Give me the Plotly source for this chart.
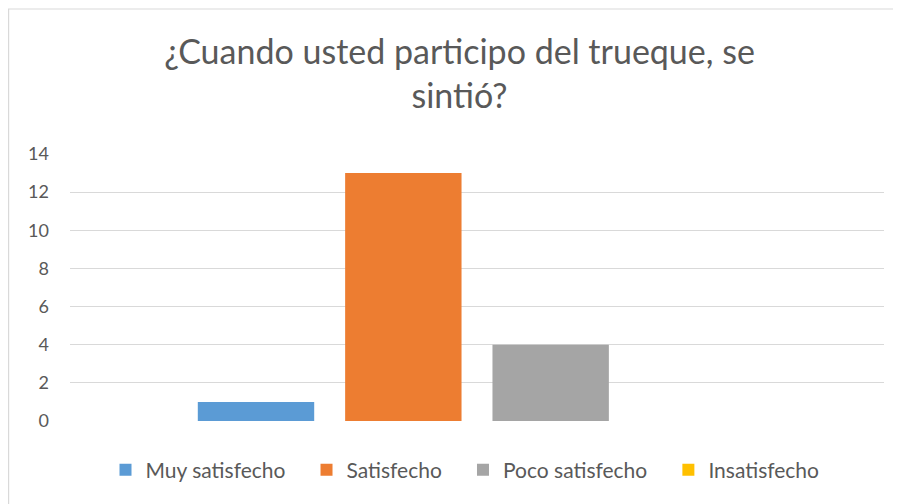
import plotly.graph_objects as go

categories = ["Respuesta"]
series_names = ["Muy satisfecho", "Satisfecho", "Poco satisfecho", "Insatisfecho"]
series_values = [1, 13, 4, 0]
series_colors = ["#5B9BD5", "#ED7D31", "#A5A5A5", "#FFC000"]
y_ticks = [0, 2, 4, 6, 8, 10, 12, 14]

# page has an 8px body margin; figure sized to fit the window
W, H = 893, 496
L, R, T, B = 62, 17, 146, 83

fig = go.Figure()
n = len(series_names)
for i, (name, val, col) in enumerate(zip(series_names, series_values, series_colors)):
    pad = "\u00a0" * 3 if i < n - 1 else ""
    fig.add_trace(go.Bar(x=categories, y=[val], name=name + pad,
                         marker=dict(color=col, line=dict(width=0))))

pw = W - L - R
ph = H - T - B
fig.update_layout(
    width=W, height=H,
    margin=dict(l=L, r=R, t=T, b=B),
    paper_bgcolor="white", plot_bgcolor="white",
    barmode="group", bargap=0.276, bargroupgap=0.21,
    font=dict(family="Lato, Carlito, Calibri, sans-serif", color="#595959"),
    title=dict(text="¿Cuando usted participo del trueque, se<br>sintió?",
               x=451.5 / W, xanchor="center", xref="container", y=1 - 56 / H, yanchor="top", yref="container",
               font=dict(size=34, color="#595959")),
    xaxis=dict(showticklabels=False, showgrid=False, zeroline=False, showline=False, ticks=""),
    yaxis=dict(range=[0, 14], tickvals=y_ticks, showgrid=True, gridcolor="#D9D9D9", gridwidth=1,
               zeroline=False, showline=False, ticks="", tickfont=dict(size=18, color="#595959"),
               ticklabelstandoff=20),
    legend=dict(orientation="h", x=(457 - L) / pw, xanchor="center", y=-(470 - 421) / ph, yanchor="middle",
                yref="paper", font=dict(size=21, color="#595959"), itemwidth=30, traceorder="normal"),
    showlegend=True,
)
fig.add_shape(type="rect", xref="paper", yref="paper",
              x0=(0.6 - L) / pw, x1=(W + 5 - L) / pw, y0=-(H + 5 - (H - B)) / ph, y1=(H - B - 1) / ph,
              line=dict(color="#D9D9D9", width=1.2), fillcolor="rgba(0,0,0,0)", layer="below")
fig.write_html("out.html")
